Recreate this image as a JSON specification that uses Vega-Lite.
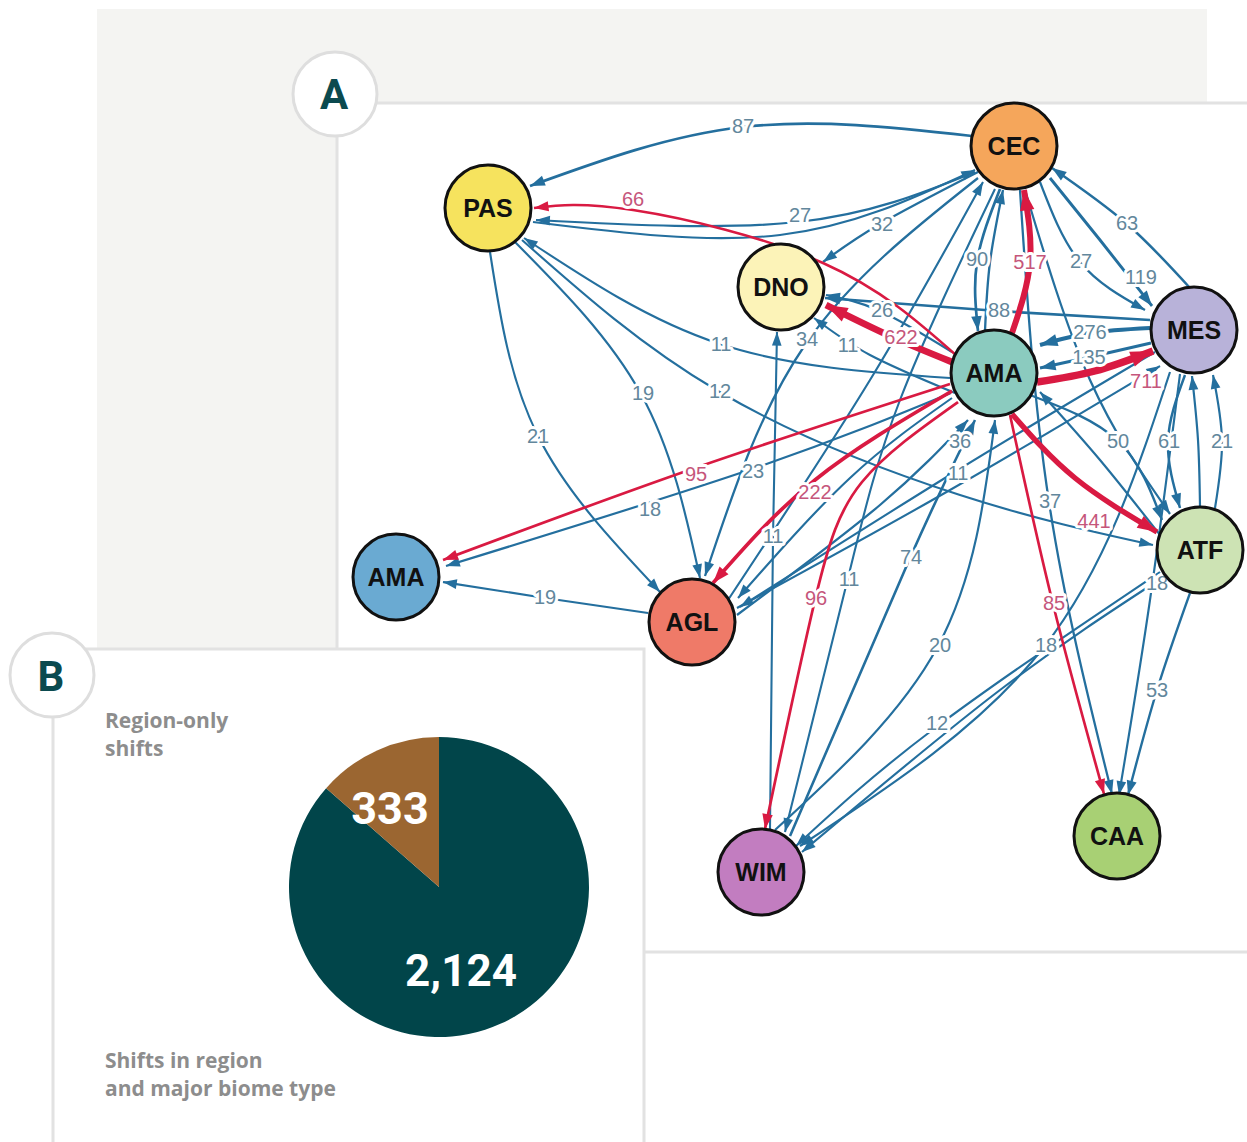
{
  "$schema": "https://vega.github.io/schema/vega-lite/v6.json",
  "width": 1247,
  "height": 1142,
  "padding": 0,
  "autosize": {"type": "none"},
  "background": "#ffffff",
  "config": {"view": {"stroke": null}},
  "datasets": {
    "nodes": [
      {"id": "CEC", "name": "CEC", "x": 1014, "y": 146},
      {"id": "PAS", "name": "PAS", "x": 488, "y": 208},
      {"id": "DNO", "name": "DNO", "x": 781, "y": 287},
      {"id": "AMA1", "name": "AMA", "x": 994, "y": 373},
      {"id": "MES", "name": "MES", "x": 1194, "y": 330},
      {"id": "ATF", "name": "ATF", "x": 1200, "y": 550},
      {"id": "AMA2", "name": "AMA", "x": 396, "y": 577},
      {"id": "AGL", "name": "AGL", "x": 692, "y": 622},
      {"id": "WIM", "name": "WIM", "x": 761, "y": 872},
      {"id": "CAA", "name": "CAA", "x": 1117, "y": 836}
    ],
    "edges": [
      {"e": "B01", "v": 87, "c": "blue", "k": 0, "x": 972, "y": 136}, {"e": "B01", "v": 87, "c": "blue", "k": 1, "x": 743, "y": 127}, {"e": "B01", "v": 87, "c": "blue", "k": 2, "x": 530, "y": 186},
      {"e": "B02", "v": 27, "c": "blue", "k": 0, "x": 975, "y": 172}, {"e": "B02", "v": 27, "c": "blue", "k": 1, "x": 798, "y": 222}, {"e": "B02", "v": 27, "c": "blue", "k": 2, "x": 536, "y": 220},
      {"e": "B03", "v": 32, "c": "blue", "k": 0, "x": 978, "y": 172}, {"e": "B03", "v": 32, "c": "blue", "k": 1, "x": 880, "y": 224}, {"e": "B03", "v": 32, "c": "blue", "k": 2, "x": 823, "y": 262},
      {"e": "B04", "v": 90, "c": "blue", "k": 0, "x": 1000, "y": 189}, {"e": "B04", "v": 90, "c": "blue", "k": 1, "x": 977, "y": 262}, {"e": "B04", "v": 90, "c": "blue", "k": 2, "x": 978, "y": 331},
      {"e": "B05", "v": 27, "c": "blue", "k": 0, "x": 1040, "y": 182}, {"e": "B05", "v": 27, "c": "blue", "k": 1, "x": 1080, "y": 262}, {"e": "B05", "v": 27, "c": "blue", "k": 2, "x": 1145, "y": 310},
      {"e": "B06", "v": 119, "c": "blue", "k": 0, "x": 1050, "y": 178}, {"e": "B06", "v": 119, "c": "blue", "k": 1, "x": 1100, "y": 240}, {"e": "B06", "v": 119, "c": "blue", "k": 2, "x": 1152, "y": 306},
      {"e": "B07", "v": 63, "c": "blue", "k": 0, "x": 1190, "y": 288}, {"e": "B07", "v": 63, "c": "blue", "k": 1, "x": 1127, "y": 224}, {"e": "B07", "v": 63, "c": "blue", "k": 2, "x": 1052, "y": 168},
      {"e": "B08", "v": 88, "c": "blue", "k": 0, "x": 1150, "y": 320}, {"e": "B08", "v": 88, "c": "blue", "k": 1, "x": 998, "y": 311}, {"e": "B08", "v": 88, "c": "blue", "k": 2, "x": 825, "y": 298},
      {"e": "B09", "v": 276, "c": "blue", "k": 0, "x": 1150, "y": 328}, {"e": "B09", "v": 276, "c": "blue", "k": 1, "x": 1090, "y": 333}, {"e": "B09", "v": 276, "c": "blue", "k": 2, "x": 1040, "y": 345},
      {"e": "B10", "v": 135, "c": "blue", "k": 0, "x": 1151, "y": 343}, {"e": "B10", "v": 135, "c": "blue", "k": 1, "x": 1090, "y": 357}, {"e": "B10", "v": 135, "c": "blue", "k": 2, "x": 1040, "y": 368},
      {"e": "B11", "v": 26, "c": "blue", "k": 0, "x": 952, "y": 352}, {"e": "B11", "v": 26, "c": "blue", "k": 1, "x": 880, "y": 311}, {"e": "B11", "v": 26, "c": "blue", "k": 2, "x": 826, "y": 295},
      {"e": "B12", "v": 11, "c": "blue", "k": 0, "x": 955, "y": 393}, {"e": "B12", "v": 11, "c": "blue", "k": 1, "x": 870, "y": 355}, {"e": "B12", "v": 11, "c": "blue", "k": 2, "x": 814, "y": 318},
      {"e": "B13", "v": 11, "c": "blue", "k": 0, "x": 950, "y": 378}, {"e": "B13", "v": 11, "c": "blue", "k": 1, "x": 720, "y": 344}, {"e": "B13", "v": 11, "c": "blue", "k": 2, "x": 524, "y": 238},
      {"e": "B14", "v": 12, "c": "blue", "k": 0, "x": 522, "y": 240}, {"e": "B14", "v": 12, "c": "blue", "k": 1, "x": 718, "y": 391}, {"e": "B14", "v": 12, "c": "blue", "k": 2, "x": 960, "y": 495}, {"e": "B14", "v": 12, "c": "blue", "k": 3, "x": 1153, "y": 545},
      {"e": "B15", "v": 19, "c": "blue", "k": 0, "x": 515, "y": 242}, {"e": "B15", "v": 19, "c": "blue", "k": 1, "x": 641, "y": 394}, {"e": "B15", "v": 19, "c": "blue", "k": 2, "x": 700, "y": 578},
      {"e": "B16", "v": 21, "c": "blue", "k": 0, "x": 490, "y": 252}, {"e": "B16", "v": 21, "c": "blue", "k": 1, "x": 538, "y": 436}, {"e": "B16", "v": 21, "c": "blue", "k": 2, "x": 660, "y": 592},
      {"e": "B17", "v": 19, "c": "blue", "k": 0, "x": 648, "y": 613}, {"e": "B17", "v": 19, "c": "blue", "k": 1, "x": 545, "y": 598}, {"e": "B17", "v": 19, "c": "blue", "k": 2, "x": 443, "y": 582},
      {"e": "B18", "v": 23, "c": "blue", "k": 0, "x": 951, "y": 393}, {"e": "B18", "v": 23, "c": "blue", "k": 1, "x": 755, "y": 468}, {"e": "B18", "v": 23, "c": "blue", "k": 2, "x": 446, "y": 566},
      {"e": "B19", "v": 18, "c": "blue", "k": 0, "x": 952, "y": 398}, {"e": "B19", "v": 18, "c": "blue", "k": 1, "x": 850, "y": 478}, {"e": "B19", "v": 18, "c": "blue", "k": 2, "x": 738, "y": 598},
      {"e": "B20", "v": 11, "c": "blue", "k": 0, "x": 1155, "y": 352}, {"e": "B20", "v": 11, "c": "blue", "k": 1, "x": 958, "y": 470}, {"e": "B20", "v": 11, "c": "blue", "k": 2, "x": 740, "y": 607},
      {"e": "B21", "v": 36, "c": "blue", "k": 0, "x": 737, "y": 615}, {"e": "B21", "v": 36, "c": "blue", "k": 1, "x": 880, "y": 505}, {"e": "B21", "v": 36, "c": "blue", "k": 2, "x": 968, "y": 420},
      {"e": "B22", "v": 20, "c": "blue", "k": 0, "x": 775, "y": 830}, {"e": "B22", "v": 20, "c": "blue", "k": 1, "x": 938, "y": 646}, {"e": "B22", "v": 20, "c": "blue", "k": 2, "x": 995, "y": 420},
      {"e": "B23", "v": 74, "c": "blue", "k": 0, "x": 790, "y": 836}, {"e": "B23", "v": 74, "c": "blue", "k": 1, "x": 910, "y": 558}, {"e": "B23", "v": 74, "c": "blue", "k": 2, "x": 975, "y": 420},
      {"e": "B24", "v": 11, "c": "blue", "k": 0, "x": 995, "y": 189}, {"e": "B24", "v": 11, "c": "blue", "k": 1, "x": 900, "y": 400}, {"e": "B24", "v": 11, "c": "blue", "k": 2, "x": 848, "y": 578}, {"e": "B24", "v": 11, "c": "blue", "k": 3, "x": 785, "y": 832},
      {"e": "B25", "v": 11, "c": "blue", "k": 0, "x": 770, "y": 829}, {"e": "B25", "v": 11, "c": "blue", "k": 1, "x": 773, "y": 537}, {"e": "B25", "v": 11, "c": "blue", "k": 2, "x": 777, "y": 332},
      {"e": "B26", "v": 34, "c": "blue", "k": 0, "x": 978, "y": 178}, {"e": "B26", "v": 34, "c": "blue", "k": 1, "x": 805, "y": 345}, {"e": "B26", "v": 34, "c": "blue", "k": 2, "x": 705, "y": 576},
      {"e": "B27", "v": 18, "c": "blue", "k": 0, "x": 1170, "y": 372}, {"e": "B27", "v": 18, "c": "blue", "k": 1, "x": 1044, "y": 647}, {"e": "B27", "v": 18, "c": "blue", "k": 2, "x": 800, "y": 846},
      {"e": "B28", "v": 18, "c": "blue", "k": 0, "x": 1162, "y": 578}, {"e": "B28", "v": 18, "c": "blue", "k": 1, "x": 1000, "y": 690}, {"e": "B28", "v": 18, "c": "blue", "k": 2, "x": 802, "y": 852},
      {"e": "B29", "v": 12, "c": "blue", "k": 0, "x": 1160, "y": 572}, {"e": "B29", "v": 12, "c": "blue", "k": 1, "x": 935, "y": 728}, {"e": "B29", "v": 12, "c": "blue", "k": 2, "x": 796, "y": 846},
      {"e": "B30", "v": 53, "c": "blue", "k": 0, "x": 1190, "y": 593}, {"e": "B30", "v": 53, "c": "blue", "k": 1, "x": 1157, "y": 690}, {"e": "B30", "v": 53, "c": "blue", "k": 2, "x": 1128, "y": 795},
      {"e": "B31", "v": 20, "c": "blue", "k": 0, "x": 1180, "y": 374}, {"e": "B31", "v": 20, "c": "blue", "k": 1, "x": 1150, "y": 600}, {"e": "B31", "v": 20, "c": "blue", "k": 2, "x": 1119, "y": 795},
      {"e": "B32", "v": 37, "c": "blue", "k": 0, "x": 1020, "y": 190}, {"e": "B32", "v": 37, "c": "blue", "k": 1, "x": 1049, "y": 502}, {"e": "B32", "v": 37, "c": "blue", "k": 2, "x": 1112, "y": 794},
      {"e": "B33", "v": 50, "c": "blue", "k": 0, "x": 1030, "y": 395}, {"e": "B33", "v": 50, "c": "blue", "k": 1, "x": 1118, "y": 441}, {"e": "B33", "v": 50, "c": "blue", "k": 2, "x": 1162, "y": 520},
      {"e": "B34", "v": 30, "c": "blue", "k": 0, "x": 1025, "y": 190}, {"e": "B34", "v": 30, "c": "blue", "k": 1, "x": 1090, "y": 380}, {"e": "B34", "v": 30, "c": "blue", "k": 2, "x": 1170, "y": 514},
      {"e": "B35", "v": 61, "c": "blue", "k": 0, "x": 1185, "y": 375}, {"e": "B35", "v": 61, "c": "blue", "k": 1, "x": 1168, "y": 441}, {"e": "B35", "v": 61, "c": "blue", "k": 2, "x": 1180, "y": 508},
      {"e": "B36", "v": 21, "c": "blue", "k": 0, "x": 1215, "y": 508}, {"e": "B36", "v": 21, "c": "blue", "k": 1, "x": 1222, "y": 441}, {"e": "B36", "v": 21, "c": "blue", "k": 2, "x": 1213, "y": 375},
      {"e": "B37", "v": 25, "c": "blue", "k": 0, "x": 1200, "y": 506}, {"e": "B37", "v": 25, "c": "blue", "k": 1, "x": 1198, "y": 440}, {"e": "B37", "v": 25, "c": "blue", "k": 2, "x": 1192, "y": 376},
      {"e": "B38", "v": 20, "c": "blue", "k": 0, "x": 1160, "y": 535}, {"e": "B38", "v": 20, "c": "blue", "k": 1, "x": 1100, "y": 460}, {"e": "B38", "v": 20, "c": "blue", "k": 2, "x": 1040, "y": 392},
      {"e": "B39", "v": 15, "c": "blue", "k": 0, "x": 533, "y": 222}, {"e": "B39", "v": 15, "c": "blue", "k": 1, "x": 780, "y": 235}, {"e": "B39", "v": 15, "c": "blue", "k": 2, "x": 975, "y": 170},
      {"e": "B40", "v": 15, "c": "blue", "k": 0, "x": 728, "y": 600}, {"e": "B40", "v": 15, "c": "blue", "k": 1, "x": 870, "y": 380}, {"e": "B40", "v": 15, "c": "blue", "k": 2, "x": 983, "y": 182},
      {"e": "B41", "v": 40, "c": "blue", "k": 0, "x": 985, "y": 331}, {"e": "B41", "v": 40, "c": "blue", "k": 1, "x": 990, "y": 262}, {"e": "B41", "v": 40, "c": "blue", "k": 2, "x": 1003, "y": 190},
      {"e": "B42", "v": 15, "c": "blue", "k": 0, "x": 737, "y": 608}, {"e": "B42", "v": 15, "c": "blue", "k": 1, "x": 950, "y": 490}, {"e": "B42", "v": 15, "c": "blue", "k": 2, "x": 1160, "y": 366},
      {"e": "R1", "v": 66, "c": "red", "k": 0, "x": 957, "y": 356}, {"e": "R1", "v": 66, "c": "red", "k": 1, "x": 823, "y": 263}, {"e": "R1", "v": 66, "c": "red", "k": 2, "x": 633, "y": 210}, {"e": "R1", "v": 66, "c": "red", "k": 3, "x": 534, "y": 208},
      {"e": "R2", "v": 622, "c": "red", "k": 0, "x": 952, "y": 362}, {"e": "R2", "v": 622, "c": "red", "k": 1, "x": 890, "y": 336}, {"e": "R2", "v": 622, "c": "red", "k": 2, "x": 826, "y": 305},
      {"e": "R3", "v": 517, "c": "red", "k": 0, "x": 1012, "y": 333}, {"e": "R3", "v": 517, "c": "red", "k": 1, "x": 1030, "y": 262}, {"e": "R3", "v": 517, "c": "red", "k": 2, "x": 1024, "y": 190},
      {"e": "R4", "v": 711, "c": "red", "k": 0, "x": 1037, "y": 382}, {"e": "R4", "v": 711, "c": "red", "k": 1, "x": 1095, "y": 371}, {"e": "R4", "v": 711, "c": "red", "k": 2, "x": 1153, "y": 351},
      {"e": "R5", "v": 441, "c": "red", "k": 0, "x": 1012, "y": 414}, {"e": "R5", "v": 441, "c": "red", "k": 1, "x": 1075, "y": 478}, {"e": "R5", "v": 441, "c": "red", "k": 2, "x": 1157, "y": 532},
      {"e": "R6", "v": 85, "c": "red", "k": 0, "x": 1010, "y": 415}, {"e": "R6", "v": 85, "c": "red", "k": 1, "x": 1053, "y": 604}, {"e": "R6", "v": 85, "c": "red", "k": 2, "x": 1104, "y": 794},
      {"e": "R7", "v": 96, "c": "red", "k": 0, "x": 958, "y": 402}, {"e": "R7", "v": 96, "c": "red", "k": 1, "x": 862, "y": 482}, {"e": "R7", "v": 96, "c": "red", "k": 2, "x": 815, "y": 600}, {"e": "R7", "v": 96, "c": "red", "k": 3, "x": 765, "y": 829},
      {"e": "R8", "v": 222, "c": "red", "k": 0, "x": 952, "y": 391}, {"e": "R8", "v": 222, "c": "red", "k": 1, "x": 815, "y": 480}, {"e": "R8", "v": 222, "c": "red", "k": 2, "x": 713, "y": 583},
      {"e": "R9", "v": 95, "c": "red", "k": 0, "x": 950, "y": 384}, {"e": "R9", "v": 95, "c": "red", "k": 1, "x": 695, "y": 468}, {"e": "R9", "v": 95, "c": "red", "k": 2, "x": 443, "y": 560}
    ],
    "arrows": [
      {"e": "B01", "v": 87, "c": "blue", "x": 530, "y": 186, "h": 249},
      {"e": "B02", "v": 27, "c": "blue", "x": 536, "y": 220, "h": 273},
      {"e": "B03", "v": 32, "c": "blue", "x": 823, "y": 262, "h": 234},
      {"e": "B04", "v": 90, "c": "blue", "x": 978, "y": 331, "h": 174},
      {"e": "B05", "v": 27, "c": "blue", "x": 1145, "y": 310, "h": 119},
      {"e": "B06", "v": 119, "c": "blue", "x": 1152, "y": 306, "h": 142},
      {"e": "B07", "v": 63, "c": "blue", "x": 1052, "y": 168, "h": 305},
      {"e": "B08", "v": 88, "c": "blue", "x": 825, "y": 298, "h": 274},
      {"e": "B09", "v": 276, "c": "blue", "x": 1040, "y": 345, "h": 254},
      {"e": "B10", "v": 135, "c": "blue", "x": 1040, "y": 368, "h": 258},
      {"e": "B11", "v": 26, "c": "blue", "x": 826, "y": 295, "h": 281},
      {"e": "B12", "v": 11, "c": "blue", "x": 814, "y": 318, "h": 307},
      {"e": "B13", "v": 11, "c": "blue", "x": 524, "y": 238, "h": 303},
      {"e": "B14", "v": 12, "c": "blue", "x": 1153, "y": 545, "h": 102},
      {"e": "B15", "v": 19, "c": "blue", "x": 700, "y": 578, "h": 168},
      {"e": "B16", "v": 21, "c": "blue", "x": 660, "y": 592, "h": 137},
      {"e": "B17", "v": 19, "c": "blue", "x": 443, "y": 582, "h": 279},
      {"e": "B18", "v": 23, "c": "blue", "x": 446, "y": 566, "h": 253},
      {"e": "B19", "v": 18, "c": "blue", "x": 738, "y": 598, "h": 221},
      {"e": "B20", "v": 11, "c": "blue", "x": 740, "y": 607, "h": 238},
      {"e": "B21", "v": 36, "c": "blue", "x": 968, "y": 420, "h": 43},
      {"e": "B22", "v": 20, "c": "blue", "x": 995, "y": 420, "h": 7},
      {"e": "B23", "v": 74, "c": "blue", "x": 975, "y": 420, "h": 26},
      {"e": "B24", "v": 11, "c": "blue", "x": 785, "y": 832, "h": 194},
      {"e": "B25", "v": 11, "c": "blue", "x": 777, "y": 332, "h": 1},
      {"e": "B26", "v": 34, "c": "blue", "x": 705, "y": 576, "h": 198},
      {"e": "B27", "v": 18, "c": "blue", "x": 800, "y": 846, "h": 237},
      {"e": "B28", "v": 18, "c": "blue", "x": 802, "y": 852, "h": 230},
      {"e": "B29", "v": 12, "c": "blue", "x": 796, "y": 846, "h": 227},
      {"e": "B30", "v": 53, "c": "blue", "x": 1128, "y": 795, "h": 195},
      {"e": "B31", "v": 20, "c": "blue", "x": 1119, "y": 795, "h": 190},
      {"e": "B32", "v": 37, "c": "blue", "x": 1112, "y": 794, "h": 166},
      {"e": "B33", "v": 50, "c": "blue", "x": 1162, "y": 520, "h": 159},
      {"e": "B34", "v": 30, "c": "blue", "x": 1170, "y": 514, "h": 145},
      {"e": "B35", "v": 61, "c": "blue", "x": 1180, "y": 508, "h": 164},
      {"e": "B36", "v": 21, "c": "blue", "x": 1213, "y": 375, "h": 349},
      {"e": "B37", "v": 25, "c": "blue", "x": 1192, "y": 376, "h": 354},
      {"e": "B38", "v": 20, "c": "blue", "x": 1040, "y": 392, "h": 318},
      {"e": "B39", "v": 15, "c": "blue", "x": 975, "y": 170, "h": 65},
      {"e": "B40", "v": 15, "c": "blue", "x": 983, "y": 182, "h": 29},
      {"e": "B41", "v": 40, "c": "blue", "x": 1003, "y": 190, "h": 12},
      {"e": "B42", "v": 15, "c": "blue", "x": 1160, "y": 366, "h": 59},
      {"e": "R1", "v": 66, "c": "red", "x": 534, "y": 208, "h": 263},
      {"e": "R2", "v": 622, "c": "red", "x": 826, "y": 305, "h": 297},
      {"e": "R3", "v": 517, "c": "red", "x": 1024, "y": 190, "h": 351},
      {"e": "R4", "v": 711, "c": "red", "x": 1153, "y": 351, "h": 69},
      {"e": "R5", "v": 441, "c": "red", "x": 1157, "y": 532, "h": 121},
      {"e": "R6", "v": 85, "c": "red", "x": 1104, "y": 794, "h": 164},
      {"e": "R7", "v": 96, "c": "red", "x": 765, "y": 829, "h": 190},
      {"e": "R8", "v": 222, "c": "red", "x": 713, "y": 583, "h": 221},
      {"e": "R9", "v": 95, "c": "red", "x": 443, "y": 560, "h": 250}
    ],
    "labels": [
      {"t": "66", "c": "red", "x": 633, "y": 200},
      {"t": "622", "c": "red", "x": 901, "y": 338},
      {"t": "517", "c": "red", "x": 1030, "y": 263},
      {"t": "711", "c": "red", "x": 1146, "y": 382},
      {"t": "441", "c": "red", "x": 1094, "y": 522},
      {"t": "85", "c": "red", "x": 1054, "y": 604},
      {"t": "96", "c": "red", "x": 816, "y": 599},
      {"t": "222", "c": "red", "x": 815, "y": 493},
      {"t": "95", "c": "red", "x": 696, "y": 475},
      {"t": "87", "c": "blue", "x": 743, "y": 127},
      {"t": "27", "c": "blue", "x": 800, "y": 216},
      {"t": "32", "c": "blue", "x": 882, "y": 225},
      {"t": "90", "c": "blue", "x": 977, "y": 260},
      {"t": "27", "c": "blue", "x": 1081, "y": 262},
      {"t": "119", "c": "blue", "x": 1141, "y": 278},
      {"t": "63", "c": "blue", "x": 1127, "y": 224},
      {"t": "88", "c": "blue", "x": 999, "y": 311},
      {"t": "276", "c": "blue", "x": 1090, "y": 333},
      {"t": "135", "c": "blue", "x": 1089, "y": 358},
      {"t": "26", "c": "blue", "x": 882, "y": 311},
      {"t": "11", "c": "blue", "x": 848, "y": 346},
      {"t": "34", "c": "blue", "x": 807, "y": 340},
      {"t": "11", "c": "blue", "x": 721, "y": 345},
      {"t": "12", "c": "blue", "x": 720, "y": 392},
      {"t": "19", "c": "blue", "x": 643, "y": 394},
      {"t": "21", "c": "blue", "x": 538, "y": 437},
      {"t": "23", "c": "blue", "x": 753, "y": 472},
      {"t": "18", "c": "blue", "x": 650, "y": 510},
      {"t": "19", "c": "blue", "x": 545, "y": 598},
      {"t": "11", "c": "blue", "x": 773, "y": 537},
      {"t": "36", "c": "blue", "x": 960, "y": 442},
      {"t": "11", "c": "blue", "x": 958, "y": 474},
      {"t": "74", "c": "blue", "x": 911, "y": 558},
      {"t": "11", "c": "blue", "x": 849, "y": 580},
      {"t": "20", "c": "blue", "x": 940, "y": 646},
      {"t": "50", "c": "blue", "x": 1118, "y": 442},
      {"t": "61", "c": "blue", "x": 1169, "y": 442},
      {"t": "21", "c": "blue", "x": 1222, "y": 442},
      {"t": "37", "c": "blue", "x": 1050, "y": 502},
      {"t": "18", "c": "blue", "x": 1157, "y": 584},
      {"t": "18", "c": "blue", "x": 1046, "y": 646},
      {"t": "53", "c": "blue", "x": 1157, "y": 691},
      {"t": "12", "c": "blue", "x": 937, "y": 724}
    ],
    "pie": [
      {"part": "Shifts in region and major biome type", "n": 2124, "k": 0},
      {"part": "Region-only shifts", "n": 333, "k": 1}
    ]
  },
  "layer": [
    {
      "data": {"values": [{"panel": "backdrop"}]},
      "mark": {"type": "rect", "fill": "#f4f4f2"},
      "encoding": {
        "x": {"datum": 97, "type": "quantitative", "scale": {"domain": [0, 1247], "nice": false, "zero": false}, "axis": null},
        "x2": {"datum": 1207},
        "y": {"datum": 9, "type": "quantitative", "scale": {"domain": [0, 1142], "nice": false, "zero": false, "reverse": true}, "axis": null},
        "y2": {"datum": 650}
      }
    },
    {
      "data": {"values": [{"panel": "A"}]},
      "mark": {"type": "rect", "fill": "#ffffff", "stroke": "#e2e2e2", "strokeWidth": 3},
      "encoding": {
        "x": {"datum": 337, "type": "quantitative", "scale": {"domain": [0, 1247], "nice": false, "zero": false}, "axis": null},
        "x2": {"datum": 1262},
        "y": {"datum": 103, "type": "quantitative", "scale": {"domain": [0, 1142], "nice": false, "zero": false, "reverse": true}, "axis": null},
        "y2": {"datum": 952}
      }
    },
    {
      "data": {"values": [{"panel": "B"}]},
      "mark": {"type": "rect", "fill": "#ffffff", "stroke": "#e2e2e2", "strokeWidth": 3},
      "encoding": {
        "x": {"datum": 53, "type": "quantitative", "scale": {"domain": [0, 1247], "nice": false, "zero": false}, "axis": null},
        "x2": {"datum": 644},
        "y": {"datum": 649, "type": "quantitative", "scale": {"domain": [0, 1142], "nice": false, "zero": false, "reverse": true}, "axis": null},
        "y2": {"datum": 1170}
      }
    },
    {
      "data": {"values": [{"badge": "A"}]},
      "mark": {"type": "point", "shape": "circle", "filled": true, "fill": "#ffffff", "stroke": "#dedede", "strokeWidth": 3, "opacity": 1, "size": 7056},
      "encoding": {
        "x": {"datum": 335, "type": "quantitative", "scale": {"domain": [0, 1247], "nice": false, "zero": false}, "axis": null},
        "y": {"datum": 94, "type": "quantitative", "scale": {"domain": [0, 1142], "nice": false, "zero": false, "reverse": true}, "axis": null}
      }
    },
    {
      "data": {"values": [{"badge": "B"}]},
      "mark": {"type": "point", "shape": "circle", "filled": true, "fill": "#ffffff", "stroke": "#dedede", "strokeWidth": 3, "opacity": 1, "size": 7056},
      "encoding": {
        "x": {"datum": 52, "type": "quantitative", "scale": {"domain": [0, 1247], "nice": false, "zero": false}, "axis": null},
        "y": {"datum": 675, "type": "quantitative", "scale": {"domain": [0, 1142], "nice": false, "zero": false, "reverse": true}, "axis": null}
      }
    },
    {
      "data": {"name": "edges"},
      "mark": {"type": "line", "interpolate": "natural", "strokeCap": "butt"},
      "encoding": {
        "x": {"field": "x", "type": "quantitative", "scale": {"domain": [0, 1247], "nice": false, "zero": false}, "axis": null},
        "y": {"field": "y", "type": "quantitative", "scale": {"domain": [0, 1142], "nice": false, "zero": false, "reverse": true}, "axis": null},
        "detail": {"field": "e", "type": "nominal"},
        "order": {"field": "k", "type": "quantitative"},
        "color": {"field": "c", "type": "nominal", "scale": {"domain": ["blue", "red"], "range": ["#246f9e", "#d91a42"]}, "legend": null},
        "strokeWidth": {"field": "v", "type": "quantitative", "scale": {"domain": [0, 711], "range": [2, 7.5]}, "legend": null}
      }
    },
    {
      "data": {"name": "arrows"},
      "mark": {"type": "point", "shape": "M0,0L-0.6,1.7L0.6,1.7Z", "filled": true, "opacity": 1, "strokeWidth": 0},
      "encoding": {
        "x": {"field": "x", "type": "quantitative", "scale": {"domain": [0, 1247], "nice": false, "zero": false}, "axis": null},
        "y": {"field": "y", "type": "quantitative", "scale": {"domain": [0, 1142], "nice": false, "zero": false, "reverse": true}, "axis": null},
        "angle": {"field": "h", "type": "quantitative", "scale": null},
        "color": {"field": "c", "type": "nominal", "scale": {"domain": ["blue", "red"], "range": ["#246f9e", "#d91a42"]}, "legend": null},
        "size": {"field": "v", "type": "quantitative", "scale": {"domain": [0, 711], "range": [250, 700]}, "legend": null}
      }
    },
    {
      "data": {"name": "labels"},
      "mark": {"type": "text", "font": "Liberation Sans", "fontSize": 20, "fill": "#ffffff", "stroke": "#ffffff", "strokeWidth": 6, "strokeJoin": "round", "align": "center", "baseline": "middle"},
      "encoding": {
        "x": {"field": "x", "type": "quantitative", "scale": {"domain": [0, 1247], "nice": false, "zero": false}, "axis": null},
        "y": {"field": "y", "type": "quantitative", "scale": {"domain": [0, 1142], "nice": false, "zero": false, "reverse": true}, "axis": null},
        "text": {"field": "t", "type": "nominal"}
      }
    },
    {
      "data": {"name": "labels"},
      "mark": {"type": "text", "font": "Liberation Sans", "fontSize": 20, "align": "center", "baseline": "middle"},
      "encoding": {
        "x": {"field": "x", "type": "quantitative", "scale": {"domain": [0, 1247], "nice": false, "zero": false}, "axis": null},
        "y": {"field": "y", "type": "quantitative", "scale": {"domain": [0, 1142], "nice": false, "zero": false, "reverse": true}, "axis": null},
        "text": {"field": "t", "type": "nominal"},
        "color": {"field": "c", "type": "nominal", "scale": {"domain": ["blue", "red"], "range": ["#62879c", "#c5567b"]}, "legend": null}
      }
    },
    {
      "data": {"name": "nodes"},
      "mark": {"type": "point", "shape": "circle", "filled": true, "opacity": 1, "stroke": "#111111", "strokeWidth": 3, "size": 7396},
      "encoding": {
        "x": {"field": "x", "type": "quantitative", "scale": {"domain": [0, 1247], "nice": false, "zero": false}, "axis": null},
        "y": {"field": "y", "type": "quantitative", "scale": {"domain": [0, 1142], "nice": false, "zero": false, "reverse": true}, "axis": null},
        "color": {"field": "id", "type": "nominal", "scale": {"domain": ["CEC", "PAS", "DNO", "AMA1", "MES", "ATF", "AMA2", "AGL", "WIM", "CAA"], "range": ["#f5a65b", "#f6e35e", "#fcf3b8", "#8bcbbf", "#b8b2d9", "#cde3b4", "#6aaad2", "#ef7a68", "#c27dc0", "#a8d074"]}, "legend": null}
      }
    },
    {
      "data": {"name": "nodes"},
      "mark": {"type": "text", "font": "Liberation Sans", "fontWeight": "bold", "fontSize": 25, "fill": "#111111", "align": "center", "baseline": "middle", "dy": 1},
      "encoding": {
        "x": {"field": "x", "type": "quantitative", "scale": {"domain": [0, 1247], "nice": false, "zero": false}, "axis": null},
        "y": {"field": "y", "type": "quantitative", "scale": {"domain": [0, 1142], "nice": false, "zero": false, "reverse": true}, "axis": null},
        "text": {"field": "name", "type": "nominal"}
      }
    },
    {
      "data": {"name": "pie"},
      "mark": {"type": "arc", "outerRadius": 150},
      "encoding": {
        "x": {"datum": 439, "type": "quantitative", "scale": {"domain": [0, 1247], "nice": false, "zero": false}, "axis": null},
        "y": {"datum": 887, "type": "quantitative", "scale": {"domain": [0, 1142], "nice": false, "zero": false, "reverse": true}, "axis": null},
        "theta": {"field": "n", "type": "quantitative", "stack": true},
        "order": {"field": "k", "type": "quantitative"},
        "color": {"field": "part", "type": "nominal", "scale": {"domain": ["Shifts in region and major biome type", "Region-only shifts"], "range": ["#01454a", "#9b6631"]}, "legend": null}
      }
    },
    {
      "data": {"values": [{"label": "333"}]},
      "mark": {"type": "text", "font": "Roboto", "fontWeight": "bold", "fontSize": 45, "fill": "#ffffff", "align": "center", "baseline": "alphabetic"},
      "encoding": {
        "x": {"datum": 390, "type": "quantitative", "scale": {"domain": [0, 1247], "nice": false, "zero": false}, "axis": null},
        "y": {"datum": 824, "type": "quantitative", "scale": {"domain": [0, 1142], "nice": false, "zero": false, "reverse": true}, "axis": null},
        "text": {"field": "label", "type": "nominal"}
      }
    },
    {
      "data": {"values": [{"label": "2,124"}]},
      "mark": {"type": "text", "font": "Roboto", "fontWeight": "bold", "fontSize": 44, "fill": "#ffffff", "align": "center", "baseline": "alphabetic"},
      "encoding": {
        "x": {"datum": 461, "type": "quantitative", "scale": {"domain": [0, 1247], "nice": false, "zero": false}, "axis": null},
        "y": {"datum": 986, "type": "quantitative", "scale": {"domain": [0, 1142], "nice": false, "zero": false, "reverse": true}, "axis": null},
        "text": {"field": "label", "type": "nominal"}
      }
    },
    {
      "data": {"values": [{"caption": "Region-only shifts"}]},
      "mark": {"type": "text", "text": ["Region-only", "shifts"], "font": "Open Sans", "fontWeight": "bold", "fontSize": 21, "lineHeight": 28, "fill": "#8d8d8d", "align": "left", "baseline": "alphabetic"},
      "encoding": {
        "x": {"datum": 105, "type": "quantitative", "scale": {"domain": [0, 1247], "nice": false, "zero": false}, "axis": null},
        "y": {"datum": 728, "type": "quantitative", "scale": {"domain": [0, 1142], "nice": false, "zero": false, "reverse": true}, "axis": null}
      }
    },
    {
      "data": {"values": [{"caption": "Shifts in region and major biome type"}]},
      "mark": {"type": "text", "text": ["Shifts in region", "and major biome type"], "font": "Open Sans", "fontWeight": "bold", "fontSize": 21, "lineHeight": 28, "fill": "#8d8d8d", "align": "left", "baseline": "alphabetic"},
      "encoding": {
        "x": {"datum": 105, "type": "quantitative", "scale": {"domain": [0, 1247], "nice": false, "zero": false}, "axis": null},
        "y": {"datum": 1068, "type": "quantitative", "scale": {"domain": [0, 1142], "nice": false, "zero": false, "reverse": true}, "axis": null}
      }
    },
    {
      "data": {"values": [{"letter": "A"}]},
      "mark": {"type": "text", "font": "Roboto", "fontWeight": "bold", "fontSize": 42, "fill": "#0b4a4f", "align": "center", "baseline": "middle", "dy": 1},
      "encoding": {
        "x": {"datum": 334, "type": "quantitative", "scale": {"domain": [0, 1247], "nice": false, "zero": false}, "axis": null},
        "y": {"datum": 95, "type": "quantitative", "scale": {"domain": [0, 1142], "nice": false, "zero": false, "reverse": true}, "axis": null},
        "text": {"field": "letter", "type": "nominal"}
      }
    },
    {
      "data": {"values": [{"letter": "B"}]},
      "mark": {"type": "text", "font": "Roboto", "fontWeight": "bold", "fontSize": 42, "fill": "#0b4a4f", "align": "center", "baseline": "middle", "dy": 1},
      "encoding": {
        "x": {"datum": 51, "type": "quantitative", "scale": {"domain": [0, 1247], "nice": false, "zero": false}, "axis": null},
        "y": {"datum": 677, "type": "quantitative", "scale": {"domain": [0, 1142], "nice": false, "zero": false, "reverse": true}, "axis": null},
        "text": {"field": "letter", "type": "nominal"}
      }
    }
  ],
  "resolve": {"scale": {"color": "independent", "size": "independent", "strokeWidth": "independent", "angle": "independent"}}
}
